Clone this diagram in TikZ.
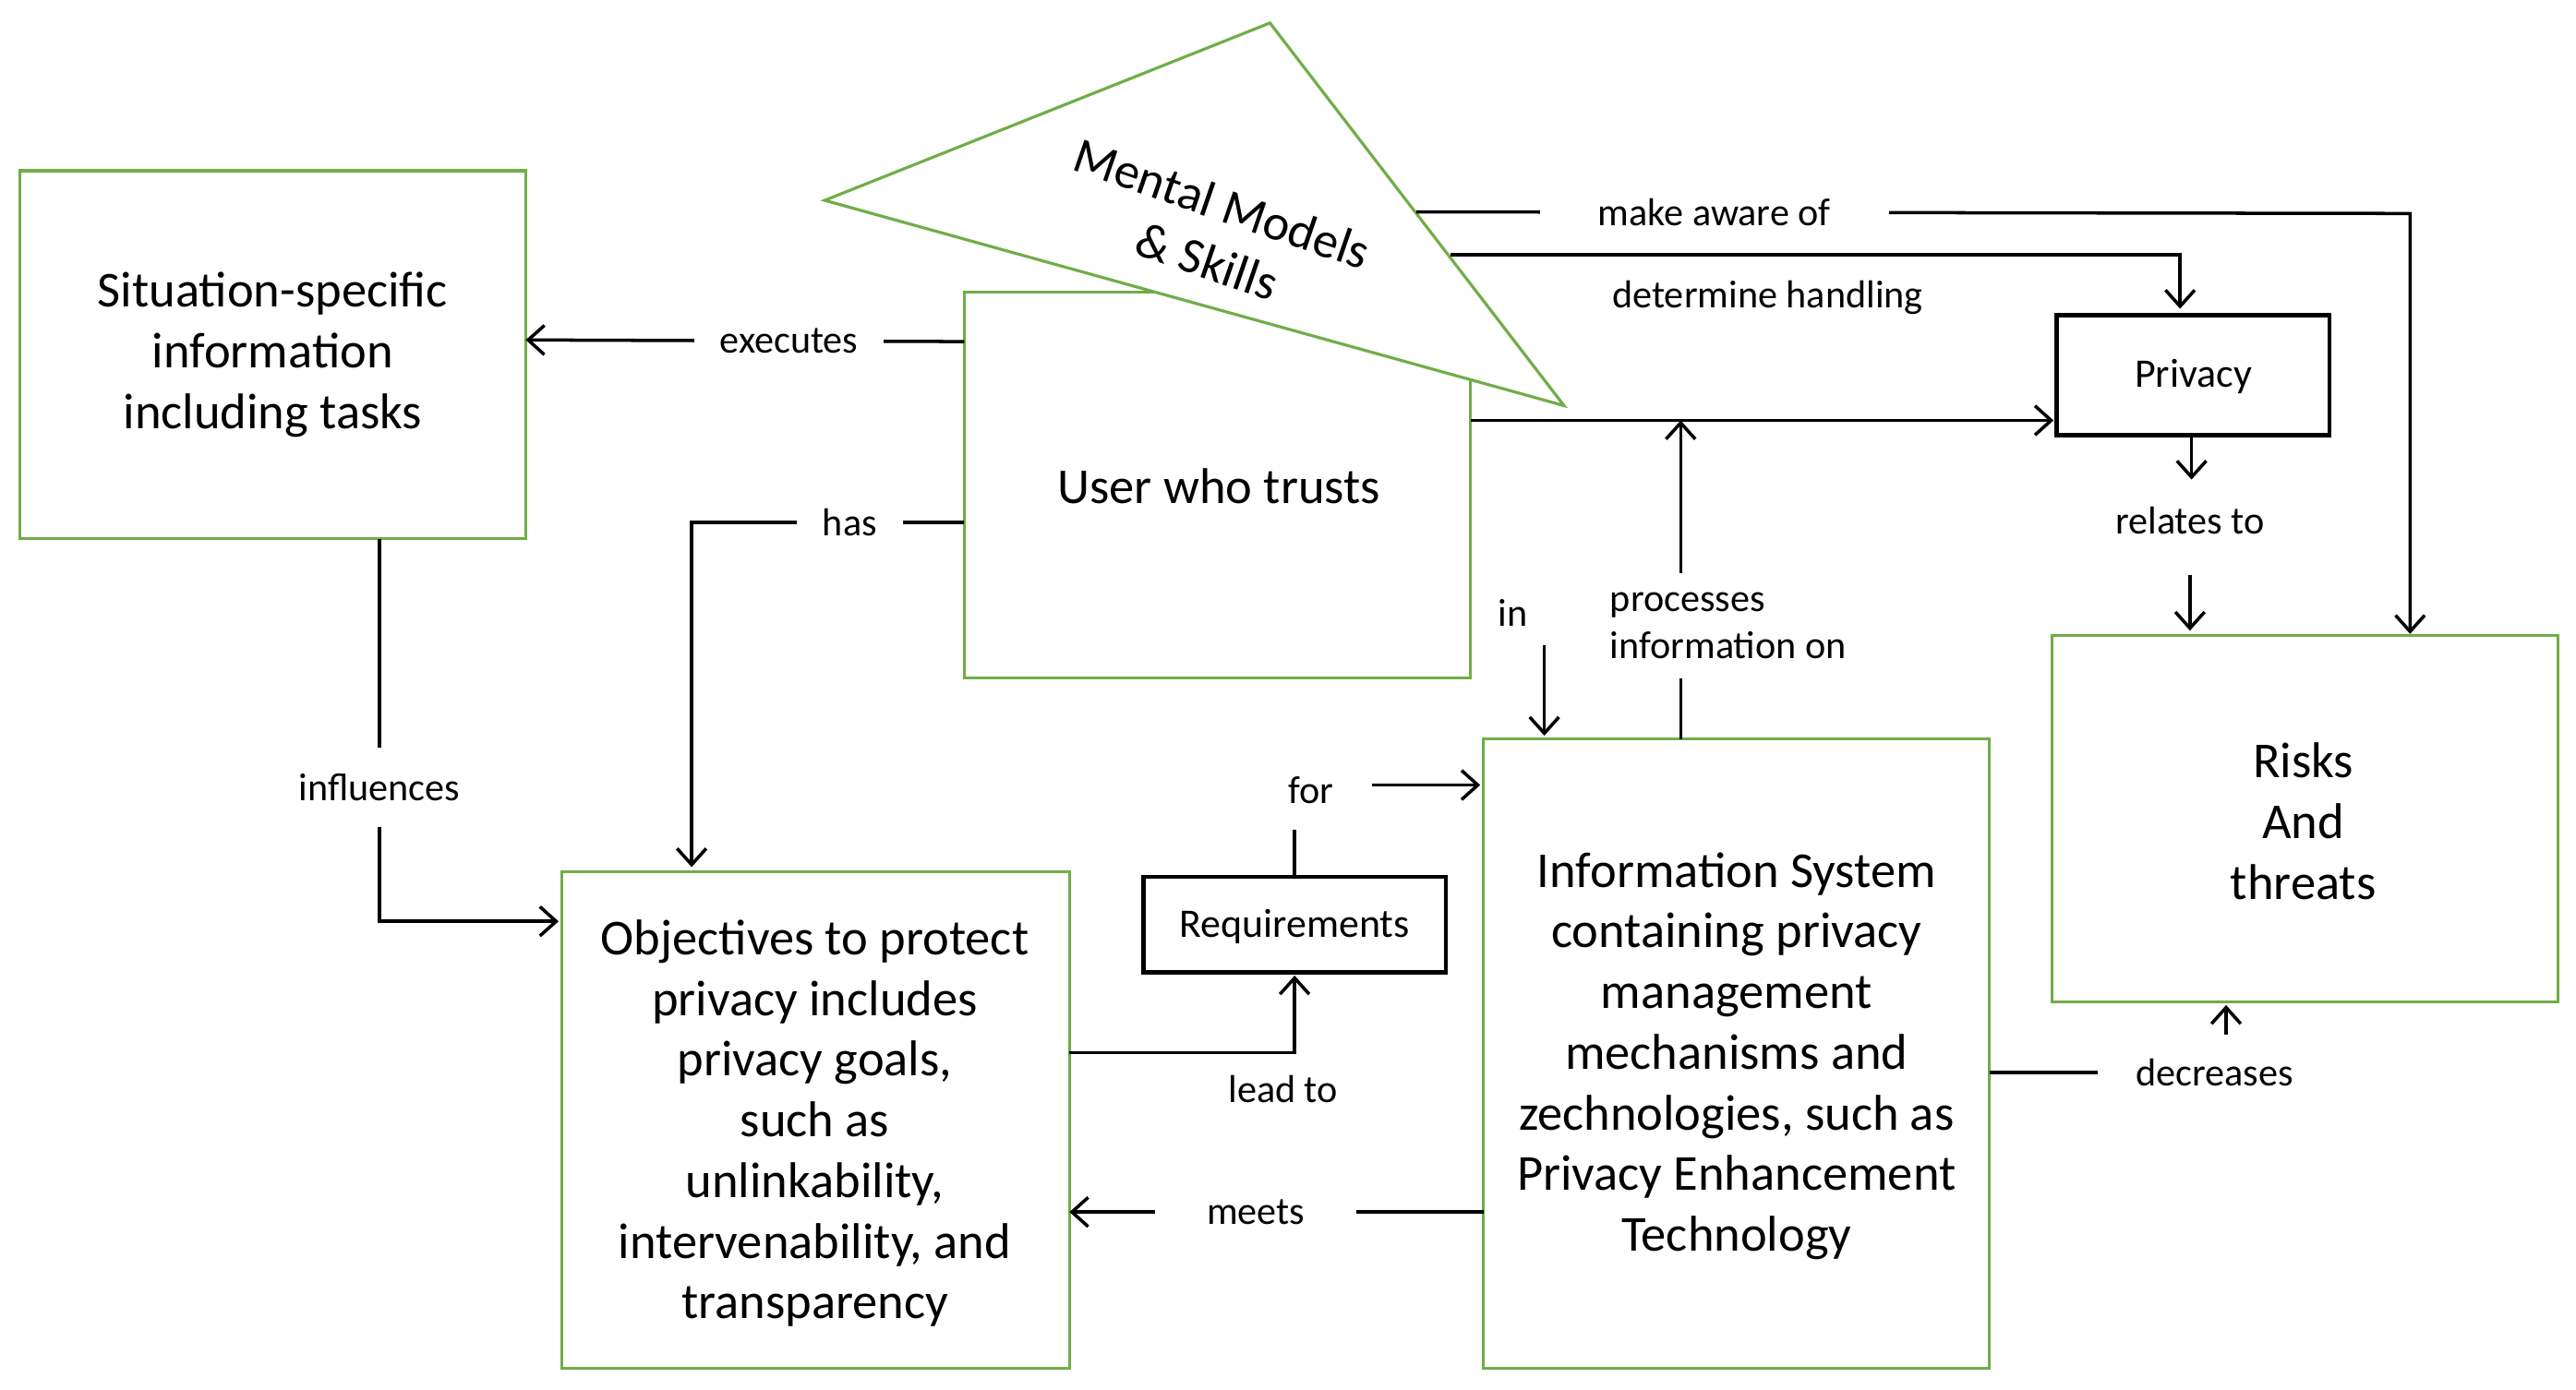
\documentclass[tikz,border=0pt]{standalone}
\usepackage{fontspec}
\setmainfont{Carlito}
\usetikzlibrary{arrows.meta}
\definecolor{gb}{RGB}{112,173,71}
\begin{document}
\begin{tikzpicture}[x=0.01779cm,y=-0.01779cm,
  gb/.style={draw=gb,line width=0.9pt},
  big/.style={align=center,font=\fontsize{15.5}{18.7}\selectfont},
  small/.style={font=\fontsize{12}{14.7}\selectfont},
  con/.style={line width=1pt,-{Straight Barb[length=5pt,width=9pt]}},
  ln/.style={line width=1pt},
  lab/.style={fill=white,inner xsep=8pt,inner ysep=2pt,small}]
\useasboundingbox (0,0) rectangle (1568,846);
\draw[gb] (12,104) rectangle (320,328);
\node[big] (sit) at (166,216) {Situation-specific\\information\\including tasks};
\draw[gb] (587,178) rectangle (895,413);
\node[big] (user) at (742,296) {User who trusts};
\draw[gb,fill=white] (502,122) -- (773,14) -- (952,247) -- cycle;
\node[font=\fontsize{15.5}{15.5}\selectfont,rotate=-19,inner sep=0pt] (mm1) at (744,124) {Mental Models};
\node[font=\fontsize{15.5}{15.5}\selectfont,rotate=-19,inner sep=0pt] (mm2) at (735,159) {\& Skills};
\draw[black,line width=1.3pt] (1252,192) rectangle (1418,265);
\node[font=\fontsize{12.5}{15}\selectfont] (priv) at (1335,229) {Privacy};
\draw[gb] (1249,387) rectangle (1557,610);
\node[big] (risk) at (1402,500) {Risks\\And\\threats};
\draw[black,line width=1.3pt] (696,534) rectangle (880,592);
\node[font=\fontsize{12.5}{15}\selectfont] (req) at (788,564) {Requirements};
\draw[gb] (342,531) rectangle (651,833);
\node[big] (obj) at (496,684) {Objectives to protect\\privacy includes\\privacy goals,\\such as\\unlinkability,\\intervenability, and\\transparency};
\draw[gb] (903,450) rectangle (1211,833);
\node[big] (is) at (1057,643) {Information System\\containing privacy\\management\\mechanisms and\\zechnologies, such as\\Privacy Enhancement\\Technology};
\draw[con] (587,208) -- node[lab,pos=0.4]{executes} (320,207);
\draw[con] (587,318) -- node[lab,pos=0.42]{has} (421,318) -- (421,528);
\draw[con] (231,328) -- node[lab,pos=0.65,inner xsep=2pt,inner ysep=8pt]{influences} (231,561) -- (340,561);
\draw[con] (862,129) -- node[lab,pos=0.3,inner xsep=18pt]{make aware of} (1467,130) -- (1467,386);
\draw[con] (883,155) -- (1327,155) -- (1327,188);
\node[small] (dh) at (1076,181) {determine handling};
\draw[con] (895,256) -- (1250,256);
\draw[con] (1023,450) -- (1023,256);
\node[lab,align=left,inner xsep=2pt,inner ysep=6pt] (proc) at (1052,381) {processes\\information on};
\node[small] (inl) at (921,373) {in};
\draw[con] (940,393) -- (940,448);
\draw[con] (1334,265) -- (1334,292);
\node[small] (rel) at (1333,317) {relates to};
\draw[con] (1333,350) -- (1333,384);
\draw[con] (651,641) -- (788,641) -- (788,594);
\node[small] (lt) at (781,663) {lead to};
\draw[ln] (788,534) -- (788,505);
\node[small] (forl) at (798,481) {for};
\draw[con] (835,478) -- (901,478);
\draw[con] (903,738) -- node[lab,pos=0.55,inner xsep=16pt]{meets} (651,738);
\draw[ln] (1211,653) -- (1277,653);
\node[small] (dec) at (1348,653) {decreases};
\draw[con] (1355,630) -- (1355,612);
\end{tikzpicture}
\end{document}
